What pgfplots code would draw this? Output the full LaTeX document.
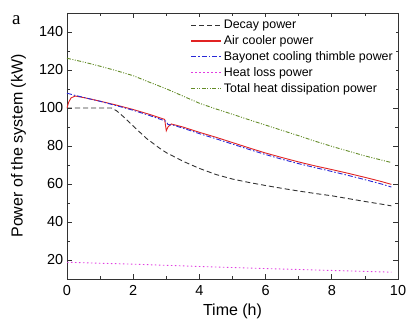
\documentclass[border=0pt]{standalone}
\usepackage{pgfplots}
\pgfplotsset{compat=1.18}
\usepackage{fontspec}
\setmainfont{Liberation Sans}
\newfontfamily\serifa{Liberation Serif}
\definecolor{cdecay}{RGB}{50,50,50}
\definecolor{cair}{RGB}{225,35,35}
\definecolor{cbay}{RGB}{40,40,215}
\definecolor{closs}{RGB}{225,60,225}
\definecolor{ctot}{RGB}{100,140,40}
\begin{document}
\begin{tikzpicture}
\useasboundingbox (-67pt,-39pt) rectangle (339pt,279pt);
\begin{axis}[
  at={(0pt,0pt)}, anchor=south west,
  scale only axis, width=331pt, height=266pt,
  xmin=0, xmax=10, ymin=10, ymax=150,
  xtick={0,2,...,10}, ytick={20,40,...,140},
  minor x tick num=1, minor y tick num=1,
  tick align=inside, major tick length=5pt, minor tick length=3pt,
  axis line style={line width=0.8pt, black!80},
  every tick/.style={black!80, line width=0.7pt},
  /pgf/number format/assume math mode=true,
  tick label style={font=\fontsize{14.5}{16}\selectfont},
  xticklabel style={yshift=-3pt},
  xlabel={Time (h)}, ylabel={Power of the system (kW)},
  label style={font=\fontsize{16}{18}\selectfont},
  xlabel style={yshift=-1pt},
  ylabel style={yshift=6pt},
  legend cell align=left,
  legend style={at={(0.37,0.985)}, anchor=north west, draw=white, fill=white,
    font=\fontsize{12.4}{13}\selectfont, row sep=1.3pt, inner sep=1pt},
  legend image post style={xscale=1.75},
  line width=0.9pt,
]
\addlegendimage{color=cdecay, dash pattern=on 5pt off 3pt}
\addlegendentry{Decay power}
\addlegendimage{color=cair, line width=1.1pt}
\addlegendentry{Air cooler power}
\addlegendimage{color=cbay, dash pattern=on 5pt off 2pt on 1.5pt off 2pt}
\addlegendentry{Bayonet cooling thimble power}
\addlegendimage{color=closs, dash pattern=on 1.5pt off 2.5pt}
\addlegendentry{Heat loss power}
\addlegendimage{color=ctot, dash pattern=on 4pt off 1.5pt on 1pt off 1.5pt on 1pt off 1.5pt}
\addlegendentry{Total heat dissipation power}
\addplot[forget plot, color=cdecay, dash pattern=on 5pt off 3pt] coordinates {
(0,100) (1.35,100) (1.5,98.5) (1.7,95.5) (2.0,90.5) (2.4,84) (2.8,78.8) (3.0,76.5)
(3.5,72) (4.0,68.2) (4.5,65) (5.0,62.6) (5.5,60.8) (6.0,59.2) (6.5,57.7) (7.0,56.3)
(7.5,55) (8.0,53.8) (8.5,52.3) (9.0,50.8) (9.5,49.4) (9.8,48.5)};
\addplot[forget plot, color=cair, solid] coordinates {
(0,100) (0.05,103) (0.12,105.3) (0.25,106.3) (0.5,105.5) (1.0,103.6) (1.5,101.5)
(2.0,99.2) (2.5,96.6) (2.95,94) (3.0,88) (3.05,90) (3.15,91.6) (3.5,90) (4.0,87.2)
(4.5,84.6) (5.0,81.8) (5.5,79) (6.0,76.3) (6.5,73.9) (7.0,71.6) (7.5,69.5) (8.0,67.6)
(8.5,65.6) (9.0,63.5) (9.5,61.3) (9.8,59.8)};
\addplot[forget plot, color=cbay, dash pattern=on 5pt off 2pt on 1.5pt off 2pt] coordinates {
(0,107.8) (0.25,106.6) (0.5,105.6) (1.0,103.5) (1.5,101.2) (2.0,98.8) (2.5,96)
(3.0,93) (3.05,91.3) (3.2,91) (3.5,89.4) (4.0,86.5) (4.5,83.8) (5.0,81) (5.5,78.2)
(6.0,75.5) (6.5,73) (7.0,70.7) (7.5,68.6) (8.0,66.6) (8.5,64.5) (9.0,62.3) (9.5,60) (9.8,58.4)};
\addplot[forget plot, color=closs, dash pattern=on 1.5pt off 2.5pt] coordinates {
(0,18.8) (2,17.8) (4,16.6) (6,15.5) (8,14.5) (9.8,13.6)};
\addplot[forget plot, color=ctot, dash pattern=on 4pt off 1.5pt on 1pt off 1.5pt on 1pt off 1.5pt] coordinates {
(0,126.2) (0.5,124.2) (1.0,122) (1.5,119.6) (2.0,117) (2.5,113.5) (3.0,110.1)
(3.5,106.3) (4.0,102.5) (4.5,99.5) (5.0,96.7) (5.5,93.8) (6.0,91) (6.5,88.2)
(7.0,85.4) (7.5,82.5) (8.0,79.8) (8.5,77.3) (9.0,74.8) (9.5,72.6) (9.8,71.3)};
\end{axis}
\node[anchor=north west, font=\serifa\fontsize{19}{21}\selectfont, inner sep=0pt] at (-55pt,264pt) {a};
\end{tikzpicture}
\end{document}
